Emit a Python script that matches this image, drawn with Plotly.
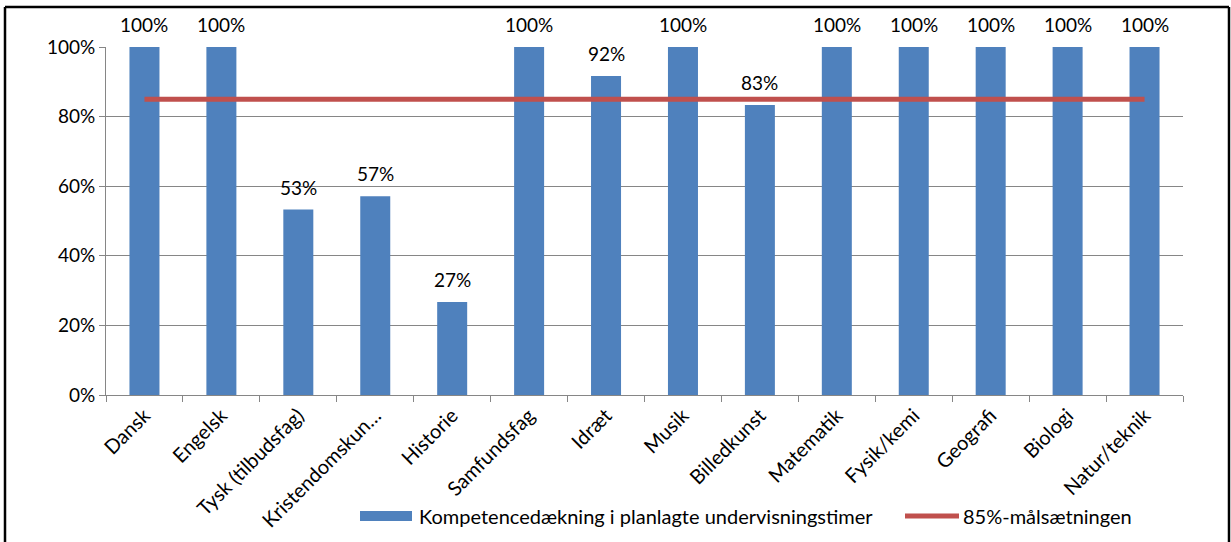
import plotly.graph_objects as go

categories = ["Dansk", "Engelsk", "Tysk (tilbudsfag)", "Kristendomskun…", "Historie",
              "Samfundsfag", "Idræt", "Musik", "Billedkunst", "Matematik",
              "Fysik/kemi", "Geografi", "Biologi", "Natur/teknik"]
coverage = [1.0, 1.0, 0.533, 0.571, 0.267, 1.0, 0.917, 1.0, 0.833, 1.0, 1.0, 1.0, 1.0, 1.0]
target = [0.85] * len(categories)
y_ticks = [0, 0.2, 0.4, 0.6, 0.8, 1.0]
bar_name = "Kompetencedækning i planlagte undervisningstimer"
line_name = "85%-målsætningen"

BAR_COLOR = "#4F81BD"
LINE_COLOR = "#C0504D"

W, H = 1231, 542
L, R, T, B = 106, 48, 47, 147
pw, ph = W - L - R, H - T - B

def px(x):
    return (x - L) / pw

def py(y):
    return (H - B - y) / ph

font = "Lato, 'Open Sans', sans-serif"
fs = 19

fig = go.Figure()
fig.add_trace(go.Bar(
    x=categories, y=coverage, name=bar_name,
    marker=dict(color=BAR_COLOR, line=dict(width=0)),
    cliponaxis=False, showlegend=False,
))
fig.add_trace(go.Scatter(
    x=categories, y=target, mode="lines", name=line_name,
    line=dict(color=LINE_COLOR, width=5),
    cliponaxis=False, showlegend=False,
))
for c, v in zip(categories, coverage):
    fig.add_annotation(x=c, y=v, text=f"{v:.0%}", showarrow=False,
                       yanchor="bottom", yshift=9,
                       font=dict(size=fs, family=font, color="#000000"))

# legend (drawn manually to mimic the wide swatches of the original)
leg_y = 516
fig.add_annotation(xref="paper", yref="paper", x=px(417), y=py(leg_y), xanchor="left",
                   yanchor="middle", text=bar_name, showarrow=False,
                   font=dict(size=20, family=font, color="#000000"))
fig.add_annotation(xref="paper", yref="paper", x=px(961), y=py(leg_y), xanchor="left",
                   yanchor="middle", text=line_name, showarrow=False,
                   font=dict(size=20, family=font, color="#000000"))

frame = dict(color="#000000", width=2.5)
fig.update_layout(
    width=W, height=H,
    margin=dict(l=L, r=R, t=T, b=B, autoexpand=False),
    paper_bgcolor="white", plot_bgcolor="white",
    font=dict(family=font, size=fs, color="#000000"),
    bargap=0.61,
    showlegend=False,
    xaxis=dict(
        type="category", tickangle=-45, showgrid=False,
        showline=True, linecolor="#868686", linewidth=1,
        ticks="outside", ticklen=6, tickcolor="#868686", tickson="boundaries",
        tickfont=dict(size=20, family=font, color="#000000"),
        range=[-0.5, len(categories) - 0.5],
    ),
    yaxis=dict(
        range=[0, 1], tickvals=y_ticks, tickformat=".0%",
        showgrid=True, gridcolor="#868686", gridwidth=1,
        showline=True, linecolor="#868686", linewidth=1,
        ticks="outside", ticklen=6, tickcolor="#868686",
        tickfont=dict(size=fs, family=font, color="#000000"),
        zeroline=False,
    ),
    shapes=[
        dict(type="line", xref="paper", yref="paper", x0=px(5), x1=px(1229), y0=py(7), y1=py(7), line=frame),
        dict(type="line", xref="paper", yref="paper", x0=px(5), x1=px(5), y0=py(7), y1=py(542), line=frame),
        dict(type="line", xref="paper", yref="paper", x0=px(1229), x1=px(1229), y0=py(7), y1=py(542), line=frame),
        dict(type="rect", xref="paper", yref="paper", x0=px(360), x1=px(412),
             y0=py(leg_y - 5), y1=py(leg_y + 5), fillcolor=BAR_COLOR, line=dict(width=0)),
        dict(type="line", xref="paper", yref="paper", x0=px(905), x1=px(959),
             y0=py(leg_y), y1=py(leg_y), line=dict(color=LINE_COLOR, width=5)),
    ],
)

fig.write_html("out.html", config={"displayModeBar": False},
               post_script="document.body.style.margin='0';document.body.style.overflow='hidden';")
